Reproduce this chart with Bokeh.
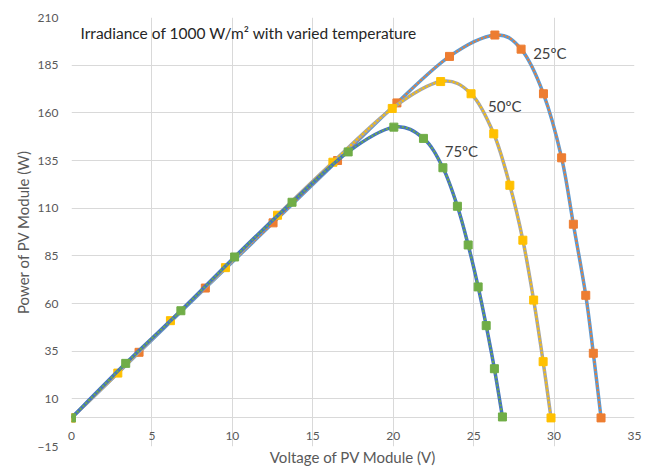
from bokeh.plotting import figure
from bokeh.models import Range1d, FixedTicker, Label, ColumnDataSource
from bokeh.embed import file_html
from bokeh.resources import INLINE

# ---- data ----
v25 = [0, 4.20, 8.32, 12.53, 16.54, 20.23, 23.50, 26.32, 27.95, 29.34, 30.47, 31.20, 31.97, 32.44, 32.92]
p25 = [0, 34.4, 68.1, 102.3, 135.0, 165.2, 189.6, 200.8, 193.4, 170.0, 136.4, 101.6, 64.3, 33.9, 0]

v50 = [0, 2.88, 6.15, 9.57, 12.81, 16.25, 19.94, 22.95, 24.84, 26.25, 27.25, 28.06, 28.73, 29.32, 29.81]
p50 = [0, 23.5, 51.0, 78.8, 106.3, 134.1, 162.3, 176.4, 170.0, 149.0, 122.0, 93.2, 61.8, 29.5, 0]

v75 = [0, 3.37, 6.80, 10.14, 13.71, 17.20, 20.04, 21.88, 23.09, 23.99, 24.66, 25.28, 25.78, 26.29, 26.79]
p75 = [0, 28.6, 56.2, 84.4, 113.1, 139.5, 152.5, 146.6, 131.2, 111.0, 90.7, 68.7, 48.4, 25.8, 0.5]

x_ticks = [0, 5, 10, 15, 20, 25, 30, 35]
y_ticks = [-15, 10, 35, 60, 85, 110, 135, 160, 185, 210]
x_axis_cross = 0  # horizontal axis crosses the vertical one at 0

title_text = "Irradiance of 1000 W/m\u00b2 with varied temperature"
x_title = "Voltage of PV Module (V)"
y_title = "Power of PV Module (W)"
series_labels = ["25\u00baC", "50\u00baC", "75\u00baC"]

FONT = "Lato"


def smooth_segments(xs, ys, k=1.0 / 6.0):
    """Catmull-Rom style smoothing expressed as cubic Bezier segments."""
    n = len(xs)
    d = dict(x0=[], y0=[], x1=[], y1=[], cx0=[], cy0=[], cx1=[], cy1=[])
    for i in range(n - 1):
        im = max(i - 1, 0)
        ip = min(i + 2, n - 1)
        d["x0"].append(xs[i]); d["y0"].append(ys[i])
        d["x1"].append(xs[i + 1]); d["y1"].append(ys[i + 1])
        d["cx0"].append(xs[i] + (xs[i + 1] - xs[im]) * k)
        d["cy0"].append(ys[i] + (ys[i + 1] - ys[im]) * k)
        d["cx1"].append(xs[i + 1] - (xs[ip] - xs[i]) * k)
        d["cy1"].append(ys[i + 1] - (ys[ip] - ys[i]) * k)
    return ColumnDataSource(d)


p = figure(width=654, height=469, output_backend="svg", toolbar_location=None,
           x_range=Range1d(0, 35), y_range=Range1d(-15, 210),
           min_border_left=71, min_border_right=20, min_border_top=17, min_border_bottom=23)
p.outline_line_color = None
p.background_fill_color = "white"
p.border_fill_color = "white"

# grid (plus the horizontal axis line at 0)
p.xgrid.ticker = FixedTicker(ticks=x_ticks)
p.ygrid.ticker = FixedTicker(ticks=y_ticks + [x_axis_cross])
p.grid.grid_line_color = "#D9D9D9"
p.grid.grid_line_width = 1

# x axis: labels sit just under the y = 0 line
xa = p.xaxis[0]
xa.ticker = FixedTicker(ticks=x_ticks)
xa.axis_line_color = None
xa.major_tick_line_color = None
xa.minor_tick_line_color = None
xa.major_tick_out = 0
xa.major_tick_in = 0
xa.major_label_standoff = -15
xa.major_label_text_font = FONT
xa.major_label_text_font_size = "12px"
xa.major_label_text_color = "#595959"
xa.axis_label = x_title
xa.axis_label_standoff = 5
xa.axis_label_text_font = FONT
xa.axis_label_text_font_size = "15px"
xa.axis_label_text_font_style = "normal"
xa.axis_label_text_color = "#595959"

ya = p.yaxis[0]
ya.ticker = FixedTicker(ticks=y_ticks)
ya.axis_line_color = None
ya.major_tick_line_color = None
ya.minor_tick_line_color = None
ya.major_tick_out = 0
ya.major_tick_in = 0
ya.major_label_standoff = 13
ya.major_label_text_font = FONT
ya.major_label_text_font_size = "12px"
ya.major_label_text_color = "#595959"
ya.axis_label = y_title
ya.axis_label_standoff = 3
ya.axis_label_text_font = FONT
ya.axis_label_text_font_size = "15px"
ya.axis_label_text_font_style = "normal"
ya.axis_label_text_color = "#595959"

series = [
    (v25, p25, "#5B9BD5", "#ED7D31"),
    (v50, p50, "#A5A5A5", "#FFC000"),
    (v75, p75, "#4472C4", "#70AD47"),
]

for xs, ys, base_col, mark_col in series:
    src = smooth_segments(xs, ys)
    p.bezier(x0="x0", y0="y0", x1="x1", y1="y1", cx0="cx0", cy0="cy0", cx1="cx1", cy1="cy1",
             source=src, line_color=base_col, line_width=3.5)
    p.bezier(x0="x0", y0="y0", x1="x1", y1="y1", cx0="cx0", cy0="cy0", cx1="cx1", cy1="cy1",
             source=src, line_color=mark_col, line_width=2, line_dash="2 2")
    p.scatter(xs, ys, marker="square", size=8, fill_color=mark_col, line_color=mark_col)

# title text inside plot area
p.add_layout(Label(x=0.56, y=202.1, text=title_text, text_font=FONT, text_font_size="15.5px",
                   text_color="#262626", text_baseline="middle", text_align="left"))

# series labels
label_pos = [(28.7, 191.3), (25.9, 163.5), (23.2, 139.9)]
for (lx, ly), txt in zip(label_pos, series_labels):
    p.add_layout(Label(x=lx, y=ly, text=txt, text_font=FONT, text_font_size="15px",
                       text_color="#404040", text_baseline="middle", text_align="left"))

open("out.html", "w").write(file_html(p, INLINE))
